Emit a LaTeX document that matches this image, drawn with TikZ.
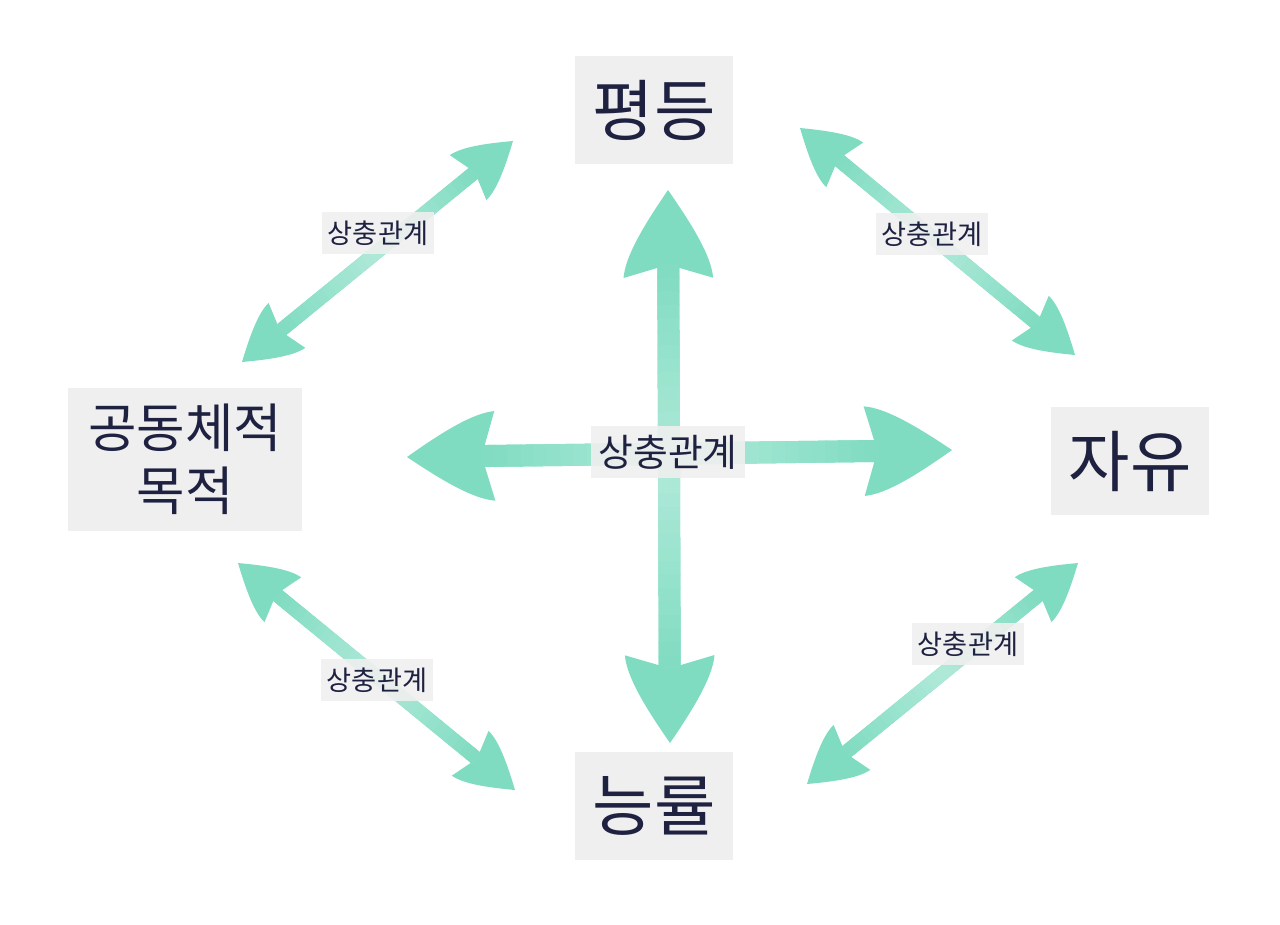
\documentclass[tikz,border=0pt]{standalone}
\usepackage{fontspec}
\newfontfamily\kr{Noto Sans CJK KR}
\usetikzlibrary{arrows.meta,calc}
\definecolor{mint}{HTML}{7FDCC1}
\definecolor{boxgray}{HTML}{EFEFEF}
\definecolor{ink}{HTML}{1E2140}

% leaf shaped arrow head with bulging sides
\pgfdeclarearrow{
  name = Leaf,
  parameters = {\the\pgfarrowlength,\the\pgfarrowwidth},
  setup code = {
    \pgfarrowssettipend{\pgfarrowlength}
    \pgfarrowssetlineend{.3\pgfarrowlength}
    \pgfarrowssetbackend{0pt}
    \pgfarrowssavethe\pgfarrowlength
    \pgfarrowssavethe\pgfarrowwidth
  },
  drawing code = {
    \pgfpathmoveto{\pgfqpoint{\pgfarrowlength}{0pt}}
    \pgfpathcurveto{\pgfqpoint{.6\pgfarrowlength}{.27\pgfarrowwidth}}{\pgfqpoint{.25\pgfarrowlength}{.48\pgfarrowwidth}}{\pgfqpoint{0pt}{.5\pgfarrowwidth}}
    \pgfpathlineto{\pgfqpoint{.15\pgfarrowlength}{0pt}}
    \pgfpathlineto{\pgfqpoint{0pt}{-.5\pgfarrowwidth}}
    \pgfpathcurveto{\pgfqpoint{.25\pgfarrowlength}{-.48\pgfarrowwidth}}{\pgfqpoint{.6\pgfarrowlength}{-.27\pgfarrowwidth}}{\pgfqpoint{\pgfarrowlength}{0pt}}
    \pgfpathclose
    \pgfusepathqfill
  },
  defaults = {length = 30pt, width = 30pt}
}

\tikzset{concept/.style={rectangle, fill=boxgray, text=ink, align=center, inner sep=0pt,
 font=\kr\fontsize{38}{44}\selectfont, minimum width=90pt, minimum height=61.5pt}}
\tikzset{tradeoff/.style={rectangle, fill=boxgray, fill opacity=0.9, text opacity=1, text=ink, inner sep=1pt,
 font=\kr\fontsize{15.5}{18}\selectfont, minimum width=63.7pt, minimum height=24pt}}
\tikzset{bigline/.style={draw=mint, line width=12.5pt, >={Leaf[length=50pt,width=51pt,color=mint]}, <->}}
\tikzset{link/.style={draw=mint, line width=8pt, >={Leaf[length=33pt,width=33pt,color=mint]}, <->}}

\begin{document}
\begin{tikzpicture}[x=0.02cm, y=-0.02cm]
        \useasboundingbox (0,0) rectangle (1280,924);

        \node[concept] (equality) at (654,110) {평등};
        \node[concept] (freedom) at (1130,461) {자유};
        \node[concept, font=\kr\fontsize{30}{36}\selectfont, minimum width=133.7pt, minimum height=81.4pt]
             (community) at (185,459) {공동체적\\목적};
        \node[concept] (efficiency) at (654,806) {능률};

        \coordinate (ctop) at (668,190);
        \coordinate (cbot) at (670,743);
        \coordinate (cleft) at (407,457);
        \coordinate (cright) at (952,450);

        \coordinate (tl1) at (242,362);
        \coordinate (tl2) at (513,141);
        \coordinate (tr1) at (800,128);
        \coordinate (tr2) at (1075,355);
        \coordinate (bl1) at (238,563);
        \coordinate (bl2) at (515,790);
        \coordinate (br1) at (1078,563);
        \coordinate (br2) at (807,784);

        % arrows, then the shaft lightened towards its middle in small steps
        \foreach \a/\b/\kind/\w/\h in {ctop/cbot/bigline/12.5pt/42pt, cleft/cright/bigline/12.5pt/42pt,
                                     tl1/tl2/link/8pt/28pt, tr1/tr2/link/8pt/28pt,
                                     bl1/bl2/link/8pt/28pt, br1/br2/link/8pt/28pt}{
          \path[\kind] (\a) -- (\b);
          \coordinate (s) at ($(\a)!\h!(\b)$);
          \coordinate (e) at ($(\b)!\h!(\a)$);
          \foreach \i in {0,...,29}{
            \pgfmathsetmacro\mix{100-38*(1-abs((\i+0.5)/15-1))}
            \path[draw=mint!\mix!white, line width=\w] ($(s)!{\i/30}!(e)$) -- ($(s)!{(\i+1.1)/30}!(e)$);
          }
        }

        \node[tradeoff, font=\kr\fontsize{21.5}{24}\selectfont, minimum width=87.6pt, minimum height=30pt]
             (crossing) at (668,452) {상충관계};
        \node[tradeoff] (tlabel1) at (378,233) {상충관계};
        \node[tradeoff] (tlabel2) at (932,234) {상충관계};
        \node[tradeoff] (tlabel3) at (377,680) {상충관계};
        \node[tradeoff] (tlabel4) at (968,644) {상충관계};
      \end{tikzpicture}
\end{document}
